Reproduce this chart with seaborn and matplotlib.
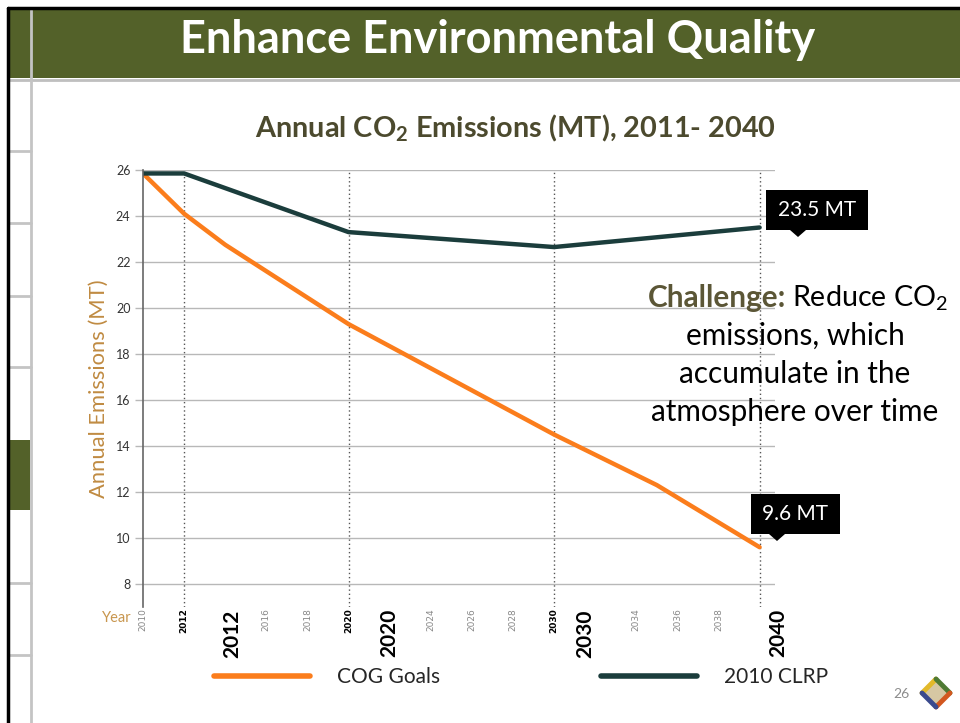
import matplotlib
matplotlib.use("Agg")
import matplotlib.pyplot as plt
import matplotlib.patches as mpatches
from matplotlib.lines import Line2D
import seaborn as sns
import pandas as pd

# data
cog_years = [2010, 2012, 2014, 2020, 2030, 2035, 2040]
cog_values = [25.85, 24.1, 22.75, 19.3, 14.5, 12.3, 9.6]
clrp_years = [2010, 2012, 2020, 2030, 2040]
clrp_values = [25.85, 25.85, 23.3, 22.65, 23.5]
series_names = ["COG Goals", "2010 CLRP"]
series_colors = {"COG Goals": "#fb7d1c", "2010 CLRP": "#1b3d3c"}

y_ticks = list(range(8, 27, 2))
small_ticks = [2010, 2012, 2016, 2018, 2020, 2024, 2026, 2028, 2030, 2034, 2036, 2038]
bold_small = [2012, 2020, 2030]
big_labels = ["2012", "2020", "2030", "2040"]
big_label_pos = [2014.35, 2022.0, 2031.5, 2040.9]
milestones = [2012, 2020, 2030, 2040]
callouts = ["23.5 MT", "9.6 MT"]

df = pd.concat([
    pd.DataFrame({"Year": cog_years, "Emissions": cog_values, "Series": series_names[0]}),
    pd.DataFrame({"Year": clrp_years, "Emissions": clrp_values, "Series": series_names[1]}),
])

sns.set_style("white")
plt.rcParams["font.family"] = ["Lato", "DejaVu Sans"]
plt.rcParams["mathtext.fontset"] = "custom"
plt.rcParams["mathtext.rm"] = "Lato"
plt.rcParams["mathtext.bf"] = "Lato:bold"

W, H = 960, 723
fig = plt.figure(figsize=(W / 100, H / 100), dpi=100)


def fx(x):
    return x / W


def fy(y):
    return 1 - y / H


# slide frame
fig.add_artist(mpatches.Rectangle((fx(10), fy(78)), fx(950), 68 / H, color="#536129", lw=0))
fig.add_artist(Line2D([fx(10), 1], [fy(79.5), fy(79.5)], color="#bfbfbf", lw=2))
fig.add_artist(Line2D([fx(31), fx(31)], [fy(10), 0], color="#c4c4c4", lw=2))
for yy in [151, 223, 296, 367, 583, 655]:
    fig.add_artist(Line2D([fx(9), fx(31)], [fy(yy), fy(yy)], color="#c4c4c4", lw=2))
fig.add_artist(mpatches.Rectangle((fx(9), fy(510)), fx(21), 70 / H, color="#536129", lw=0))
fig.add_artist(Line2D([fx(8), fx(8)], [fy(8), 0], color="black", lw=2.5))
fig.add_artist(Line2D([fx(8), 1], [fy(8), fy(8)], color="black", lw=2.5))

fig.text(fx(498), fy(40), "Enhance Environmental Quality", color="white",
         fontsize=32.5, fontweight="bold", ha="center", va="center")

# chart
ax = fig.add_axes([fx(143), fy(607), fx(775 - 143), 437 / H])
sns.lineplot(data=df, x="Year", y="Emissions", hue="Series", palette=series_colors,
             linewidth=3.2, legend=False, ax=ax)
ax.set_xlim(2010, 2040.75)
ax.set_ylim(7.0, 26.0)
ax.set_yticks(y_ticks)
ax.yaxis.grid(True, color="#b8b8b8", lw=1)
ax.set_axisbelow(True)
ax.tick_params(axis="y", length=6, width=1, color="#b8b8b8", labelsize=9,
               labelcolor="#333333", pad=3, left=True)
for s in ["top", "right", "bottom"]:
    ax.spines[s].set_visible(False)
ax.spines["left"].set_color("#666666")
ax.spines["left"].set_linewidth(1.2)

for yr in milestones:
    ax.axvline(yr, color="#555555", lw=1, ls=(0, (1, 2)), zorder=1)

ax.set_xticks(small_ticks)
ax.set_xticklabels([str(t) for t in small_ticks], rotation=90, fontsize=6.5,
                   fontfamily="DejaVu Sans")
ax.tick_params(axis="x", length=0, pad=1)
for t, lab in zip(small_ticks, ax.get_xticklabels()):
    if t in bold_small:
        lab.set_fontweight("bold")
        lab.set_color("black")
    else:
        lab.set_color("#888888")

xform = ax.get_xaxis_transform()
for pos, lab in zip(big_label_pos, big_labels):
    ax.text(pos, -0.005, lab, transform=xform, rotation=90, ha="center", va="top",
            fontsize=15, fontweight="bold", color="black")

ax.set_xlabel("")
ax.set_ylabel("Annual Emissions (MT)", fontsize=15.8, color="#c08b42", labelpad=5)
fig.text(fx(117), fy(618), "Year", color="#c8964e", fontsize=10.5, ha="center", va="center")

fig.text(fx(515), fy(128), r"Annual CO$_\mathbf{2}$ Emissions (MT), 2011- 2040",
         color="#4c4a2e", fontsize=20.8, fontweight="bold", ha="center", va="center")

# callouts
for (x0, y0, x1, y1, tipx), txt in zip([(766, 190, 868, 230, 798), (751, 494, 840, 534, 777)], callouts):
    fig.add_artist(mpatches.Rectangle((fx(x0), fy(y1)), fx(x1 - x0), (y1 - y0) / H,
                                      color="black", lw=0))
    fig.add_artist(mpatches.Polygon([(fx(tipx - 8), fy(y1)), (fx(tipx + 8), fy(y1)),
                                     (fx(tipx), fy(y1 + 7))], closed=True, color="black", lw=0))
    fig.text(fx((x0 + x1) / 2), fy((y0 + y1) / 2), txt, color="white", fontsize=15,
             ha="center", va="center")

# challenge text
fig.text(fx(786), fy(298), "Challenge:", color="#5b5636", fontsize=21.4, fontweight="bold",
         ha="right", va="center")
fig.text(fx(792), fy(298), r"Reduce CO$_\mathrm{2}$", color="black", fontsize=20.6,
         ha="left", va="center")
for yy, line in zip([336, 374, 412], ["emissions, which", "accumulate in the", "atmosphere over time"]):
    fig.text(fx(795), fy(yy), line, color="black", fontsize=21.4, ha="center", va="center")

# legend
handles = [Line2D([], [], color=series_colors[n], lw=4) for n in series_names]
fig.legend(handles, series_names, loc="center", bbox_to_anchor=(fx(521), fy(677)), ncol=2,
           frameon=False, fontsize=15, handlelength=4.6, handletextpad=1.3, columnspacing=7.7)

# page number and logo
fig.text(fx(901), fy(694), "26", color="#8c8c8c", fontsize=10, ha="center", va="center")
cx, cy, r = 936, 693, 14
fig.add_artist(mpatches.Polygon([(fx(cx), fy(cy - r)), (fx(cx + r), fy(cy)), (fx(cx), fy(cy + r)),
                                 (fx(cx - r), fy(cy))], closed=True, color="#d6c7a3", lw=0))
for (a, b), c in zip([((cx - r, cy), (cx, cy - r)), ((cx, cy - r), (cx + r, cy)),
                      ((cx + r, cy), (cx, cy + r)), ((cx, cy + r), (cx - r, cy))],
                     ["#e2b92a", "#4f7a34", "#d2571f", "#3b4a8e"]):
    fig.add_artist(Line2D([fx(a[0]), fx(b[0])], [fy(a[1]), fy(b[1])], color=c, lw=3.5,
                          solid_capstyle="round"))

fig.savefig("out.png", dpi=100)
